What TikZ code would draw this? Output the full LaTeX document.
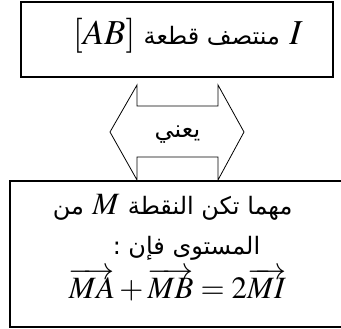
\documentclass[tikz,border=0pt]{standalone}
\usepackage{mathptmx}
\usepackage{fontspec}
\setmainfont{Liberation Serif}
\newfontfamily\arabicfont[Script=Arabic]{DejaVu Sans}
\TeXXeTstate=1
\usetikzlibrary{positioning}

\begin{document}
\begin{tikzpicture}[x=1pt, y=-1pt,
  box/.style={draw, line width=1.6pt, inner sep=0pt},
  twoway/.style={draw, line width=0.8pt, line join=miter},
  artext/.style={font=\arabicfont\fontsize{#1}{#1}\selectfont, inner sep=0pt, anchor=base},
  artext/.default=24,
  mathtext/.style={font=\fontsize{#1}{#1}\selectfont, inner sep=0pt, anchor=base},
  mathtext/.default=31
]
\useasboundingbox (0,0) rectangle (341,329);

% Boxes
\node[box, minimum width=312pt, minimum height=75pt] (topbox) at (177,39.5) {};
\node[box, minimum width=335pt, minimum height=146pt] (botbox) at (177.5,254) {};

% Double arrow between the boxes
\draw[twoway] (137,85) -- (137,106) -- (218,106) -- (218,85) -- (244,132)
  -- (218,180) -- (218,157) -- (137,157) -- (137,180) -- (110,132) -- cycle;

% Title: I ... [AB]
\node[mathtext=35, anchor=base east] (tI) at (303,45) {$I$};
\node[artext, base left=9pt of tI] (tmid) {\beginR منتصف قطعة\endR};
\node[mathtext=35, base left=8pt of tmid] (tAB) {$[AB]$};

\node[artext] (means) at (177.5,138) {\beginR يعني\endR};

% First line: ... M ...
\node[mathtext] (lM) at (106,215) {$M$};
\node[artext, base left=8pt of lM] (lmin) {\beginR من\endR};
\node[artext, base right=8pt of lM] (lany) {\beginR مهما تكن النقطة\endR};

\node[artext] (line2) at (186.5,255) {\beginR المستوى فإن :\endR};
\node[mathtext] (rel) at (177.5,299)
  {$\overrightarrow{MA}+\overrightarrow{MB}=2\overrightarrow{MI}$};
\end{tikzpicture}
\end{document}
